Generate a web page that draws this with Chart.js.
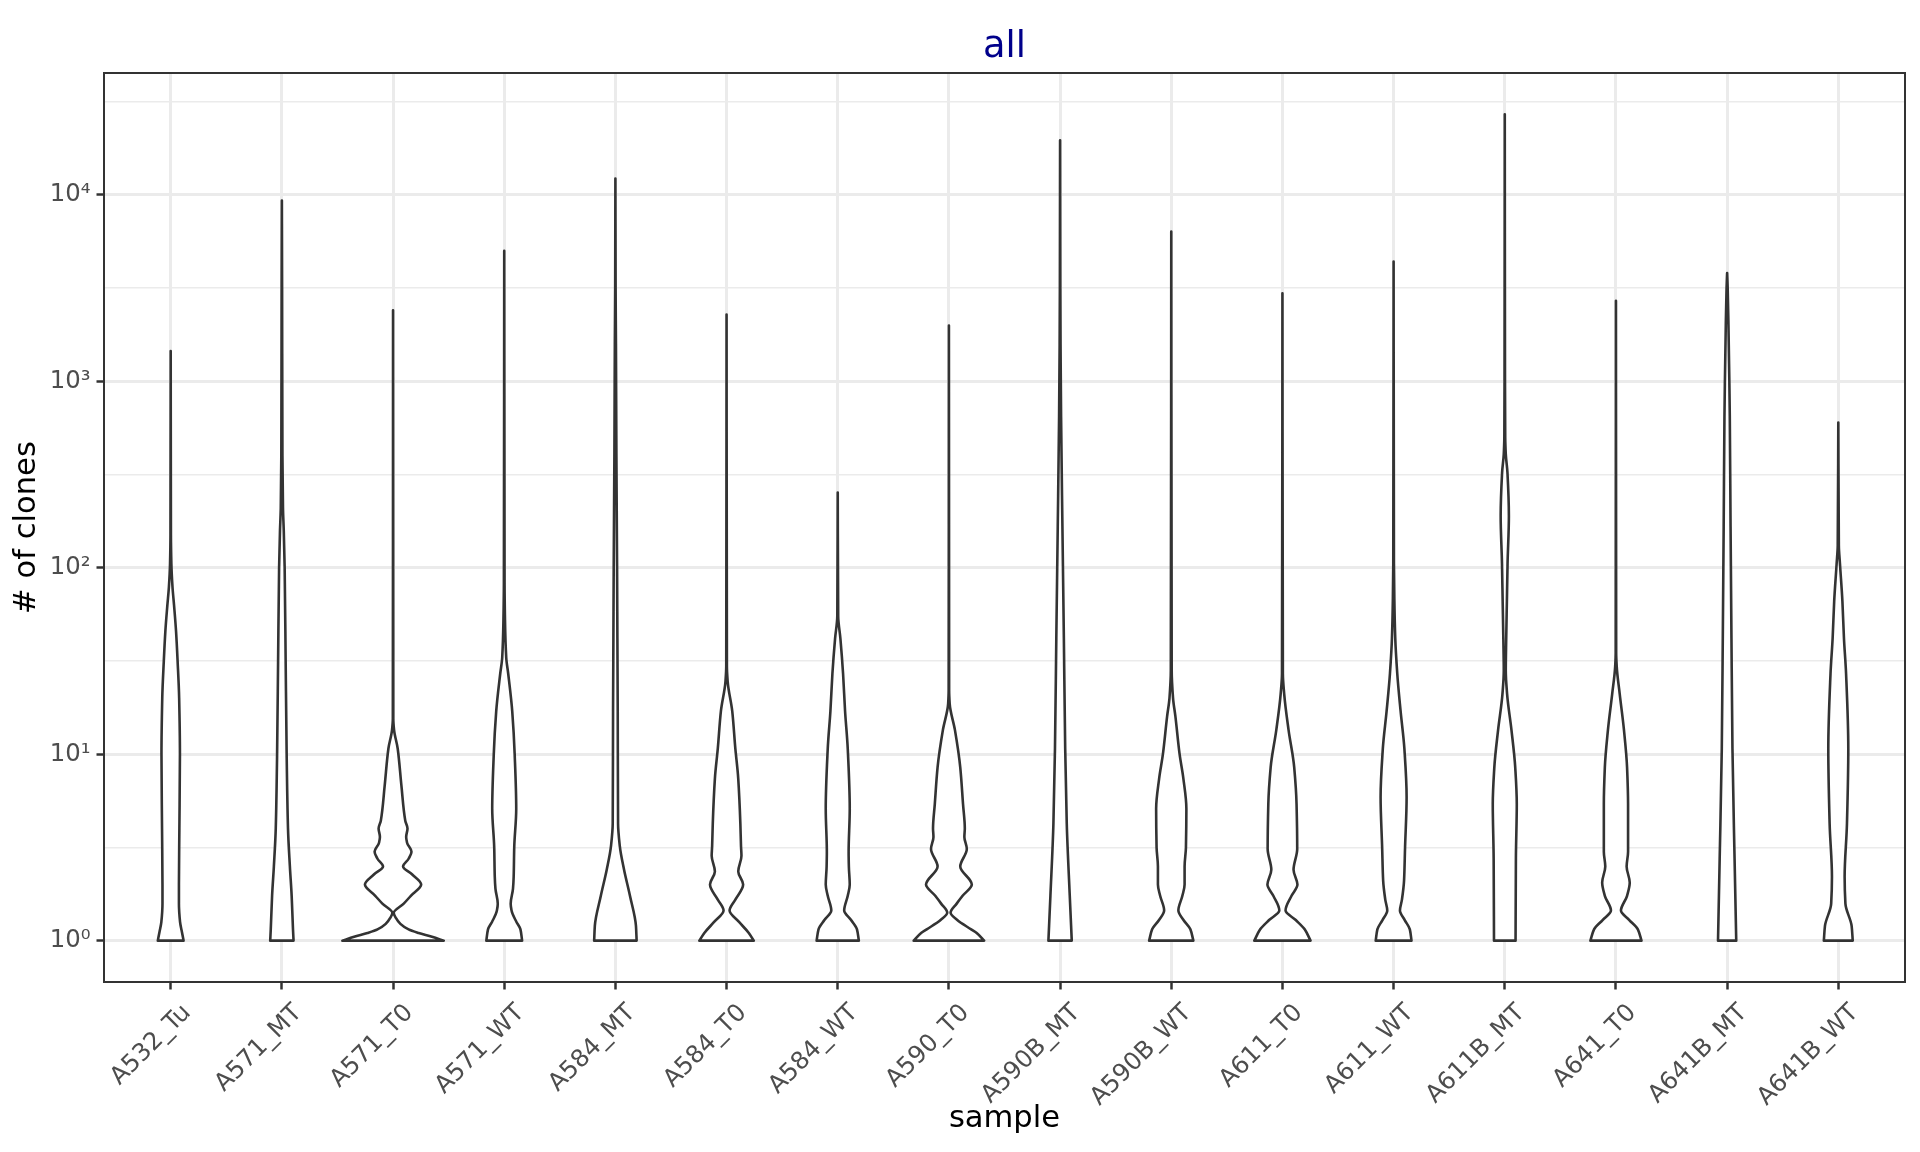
<!DOCTYPE html>
<html>
<head>
<meta charset="utf-8">
<title>all</title>
<script src="https://cdn.jsdelivr.net/npm/chart.js@4.4.0/dist/chart.umd.min.js"></script>
<style>
  html, body { margin: 0; padding: 0; background: #ffffff; }
  #wrap { width: 1920px; height: 1152px; }
</style>
</head>
<body>
<div id="wrap"><canvas id="chart" width="1920" height="1152"></canvas></div>
<script>
// Samples on the x axis
const samples = ["A532_Tu", "A571_MT", "A571_T0", "A571_WT", "A584_MT", "A584_T0", "A584_WT", "A590_T0",
  "A590B_MT", "A590B_WT", "A611_T0", "A611_WT", "A611B_MT", "A641_T0", "A641B_MT", "A641B_WT"];

// Largest clone count per sample (top of each violin)
const maxClones = [1450, 9300, 2400, 5000, 12200, 2280, 253, 1990, 19600, 6350, 2960, 4380, 27000, 2700, 3800, 600];

// Violin outlines: [clones, half width in category units], read from bottom to top
const densA532_Tu = [[1, 0.116], [1.12, 0.1], [1.26, 0.084], [1.58, 0.074], [2, 0.074], [4, 0.078], [10, 0.083], [20, 0.076], [31.6, 0.062], [45.7, 0.048], [63, 0.03], [79, 0.016], [105, 0.006], [150, 0.002]];
const densA571_MT = [[1, 0.105], [1.15, 0.1], [1.74, 0.088], [2.5, 0.072], [4, 0.055], [10, 0.043], [31.6, 0.034], [100, 0.025], [158, 0.017], [209, 0.01], [400, 0.005], [3162, 0.002]];
const densA571_T0 = [[1, 0.456], [1.05, 0.35], [1.1, 0.23], [1.15, 0.14], [1.23, 0.066], [1.32, 0.027], [1.41, 0.006], [1.58, 0.096], [1.74, 0.16], [2, 0.253], [2.27, 0.17], [2.5, 0.09], [2.75, 0.14], [3, 0.166], [3.35, 0.126], [3.6, 0.118], [4, 0.13], [4.4, 0.11], [6.8, 0.075], [10.7, 0.042], [13.5, 0.009], [15.5, 0.002]];
const densA571_WT = [[1, 0.161], [1.15, 0.146], [1.26, 0.11], [1.45, 0.066], [1.58, 0.058], [1.9, 0.079], [2.2, 0.085], [3.16, 0.09], [5.1, 0.108], [10, 0.094], [17, 0.072], [27, 0.036], [33, 0.018], [52.5, 0.007], [83, 0.003]];
const densA584_MT = [[1, 0.191], [1.2, 0.185], [1.74, 0.131], [2.4, 0.078], [3.2, 0.04], [4.25, 0.024], [17, 0.021], [41.7, 0.018], [105, 0.015], [407, 0.009], [1585, 0.005], [3162, 0.002]];
const densA584_T0 = [[1, 0.245], [1.1, 0.2], [1.26, 0.112], [1.45, 0.027], [1.66, 0.079], [2, 0.149], [2.35, 0.105], [2.85, 0.134], [3.2, 0.13], [4.25, 0.124], [7.4, 0.105], [10.7, 0.079], [17, 0.051], [24.5, 0.01], [29.5, 0.003]];
const densA584_WT = [[1, 0.19], [1.15, 0.173], [1.29, 0.12], [1.45, 0.058], [1.74, 0.09], [2, 0.108], [2.5, 0.1], [3, 0.098], [5.1, 0.108], [10.7, 0.09], [17, 0.066], [27, 0.048], [41.7, 0.024], [55, 0.004]];
const densA590_T0 = [[1, 0.317], [1.1, 0.25], [1.15, 0.2], [1.29, 0.075], [1.41, 0.015], [1.58, 0.07], [1.74, 0.123], [2, 0.206], [2.5, 0.102], [3.1, 0.161], [3.6, 0.139], [4, 0.143], [5.4, 0.127], [8.5, 0.102], [13.5, 0.054], [18.6, 0.007], [22, 0.002]];
const densA590B_MT = [[1, 0.105], [1.74, 0.087], [4.25, 0.06], [10.7, 0.046], [41.7, 0.034], [166, 0.021], [646, 0.009], [1585, 0.004], [3162, 0.002]];
const densA590B_WT = [[1, 0.199], [1.15, 0.172], [1.29, 0.11], [1.45, 0.064], [1.74, 0.1], [2, 0.12], [2.5, 0.12], [3.16, 0.132], [5.1, 0.136], [7.4, 0.109], [10, 0.075], [16, 0.037], [20, 0.016], [28, 0.004]];
const densA611_T0 = [[1, 0.253], [1.15, 0.2], [1.29, 0.12], [1.45, 0.028], [1.74, 0.082], [2, 0.135], [2.4, 0.1], [3.1, 0.133], [5.4, 0.127], [8.5, 0.106], [13.5, 0.055], [21, 0.016], [27, 0.004]];
const densA611_WT = [[1, 0.161], [1.15, 0.146], [1.29, 0.1], [1.45, 0.057], [1.66, 0.075], [2.1, 0.094], [3.16, 0.103], [5.9, 0.117], [10.7, 0.097], [17, 0.063], [27, 0.033], [41.7, 0.015], [66, 0.007], [105, 0.003]];
const densA611B_MT = [[1, 0.097], [2.75, 0.1], [5.4, 0.108], [8.5, 0.094], [13.5, 0.06], [21, 0.021], [28, 0.009], [41.7, 0.013], [66, 0.019], [105, 0.025], [190, 0.037], [324, 0.024], [407, 0.009], [500, 0.004], [1000, 0.002]];
const densA641_T0 = [[1, 0.23], [1.15, 0.197], [1.29, 0.12], [1.45, 0.045], [1.74, 0.1], [2.05, 0.124], [2.5, 0.096], [3, 0.109], [5.4, 0.109], [8.5, 0.1], [13.5, 0.072], [21, 0.034], [29.5, 0.007], [35, 0.002]];
const densA641B_MT = [[1, 0.082], [2.75, 0.067], [10.7, 0.048], [41.7, 0.039], [166, 0.031], [646, 0.024], [1000, 0.02], [2000, 0.012], [3162, 0.005]];
const densA641B_WT = [[1, 0.13], [1.2, 0.12], [1.58, 0.064], [2.2, 0.057], [4.25, 0.078], [10.7, 0.09], [27, 0.07], [41.7, 0.051], [66, 0.037], [105, 0.015], [132, 0.005]];

// Y axis: labelled powers of ten, grid lines every half decade
const yTickLabels = ["10⁰", "10¹", "10²", "10³", "10⁴"];
const yGridPowers = [0, 0.5, 1, 1.5, 2, 2.5, 3, 3.5, 4, 4.5];

const profiles = [densA532_Tu, densA571_MT, densA571_T0, densA571_WT, densA584_MT, densA584_T0, densA584_WT, densA590_T0,
  densA590B_MT, densA590B_WT, densA611_T0, densA611_WT, densA611B_MT, densA641_T0, densA641B_MT, densA641B_WT];

const FONT = '"DejaVu Sans", sans-serif';
const INK = "#333333";

function isMajorPower(v) {
  const p = Math.log10(v);
  return Math.abs(p - Math.round(p)) < 1e-6;
}

// Smooth half width as a function of height (monotone cubic tangents)
function tangents(t, w) {
  const n = t.length;
  const h = [], d = [], m = [];
  for (let k = 0; k < n - 1; k++) {
    h.push(t[k + 1] - t[k]);
    d.push((w[k + 1] - w[k]) / h[k]);
  }
  m[0] = d[0];
  m[n - 1] = d[n - 2];
  for (let k = 1; k < n - 1; k++) {
    if (d[k - 1] * d[k] <= 0) {
      m[k] = 0;
    } else {
      m[k] = 3 * (h[k - 1] + h[k]) / ((2 * h[k] + h[k - 1]) / d[k - 1] + (h[k] + 2 * h[k - 1]) / d[k]);
    }
  }
  return { h, m };
}

const violinPlugin = {
  id: "violins",
  afterDatasetsDraw(chart) {
    const ctx = chart.ctx;
    const xs = chart.scales.x;
    const ys = chart.scales.y;
    profiles.forEach(function (prof, i) {
      const cx = xs.getPixelForValue(i);
      const pts = prof.concat([[maxClones[i], 0]]);
      // t runs upwards in pixels, w is the half width in pixels
      const t = pts.map(p => -ys.getPixelForValue(p[0]));
      const w = pts.map(p => xs.getPixelForValue(i + p[1]) - cx);
      const { h, m } = tangents(t, w);
      const n = t.length;

      ctx.save();
      ctx.beginPath();
      ctx.moveTo(cx - w[0], -t[0]);
      // left side, bottom to top
      for (let k = 0; k < n - 1; k++) {
        ctx.bezierCurveTo(
          cx - (w[k] + m[k] * h[k] / 3), -(t[k] + h[k] / 3),
          cx - (w[k + 1] - m[k + 1] * h[k] / 3), -(t[k + 1] - h[k] / 3),
          cx - w[k + 1], -t[k + 1]);
      }
      // right side, top to bottom
      for (let k = n - 2; k >= 0; k--) {
        ctx.bezierCurveTo(
          cx + (w[k + 1] - m[k + 1] * h[k] / 3), -(t[k + 1] - h[k] / 3),
          cx + (w[k] + m[k] * h[k] / 3), -(t[k] + h[k] / 3),
          cx + w[k], -t[k]);
      }
      ctx.closePath();
      ctx.fillStyle = "#ffffff";
      ctx.fill();
      ctx.lineWidth = 2.6;
      ctx.lineJoin = "round";
      ctx.strokeStyle = INK;
      ctx.stroke();
      ctx.restore();
    });
  },
  afterDraw(chart) {
    const ctx = chart.ctx;
    const area = chart.chartArea;
    const xs = chart.scales.x;

    // panel border
    ctx.save();
    ctx.lineWidth = 2;
    ctx.strokeStyle = INK;
    ctx.strokeRect(area.left, area.top, area.right - area.left, area.bottom - area.top);

    // title centred over the panel
    ctx.fillStyle = "#00008B";
    ctx.font = "36.7px " + FONT;
    ctx.textAlign = "center";
    ctx.textBaseline = "alphabetic";
    ctx.fillText("all", (area.left + area.right) / 2, 57);

    // rotated sample labels, text ending just right of each tick
    ctx.fillStyle = "#4D4D4D";
    ctx.font = "24.4px " + FONT;
    ctx.textAlign = "right";
    samples.forEach(function (name, i) {
      const px = xs.getPixelForValue(i);
      ctx.save();
      ctx.translate(px + 21, area.bottom + 31.5);
      ctx.rotate(-Math.PI / 4);
      ctx.fillText(name, 0, 0);
      ctx.restore();
    });
    ctx.restore();
  }
};

const ctx = document.getElementById("chart").getContext("2d");
const chart = new Chart(ctx, {
  type: "scatter",
  data: { datasets: [] },
  plugins: [violinPlugin],
  options: {
    responsive: false,
    animation: false,
    devicePixelRatio: 1,
    layout: { padding: { top: 73, right: 15, left: 0, bottom: 0 } },
    plugins: {
      legend: { display: false },
      tooltip: { enabled: false },
      title: { display: false }
    },
    scales: {
      x: {
        type: "linear",
        min: -0.6,
        max: 15.6,
        bounds: "data",
        afterBuildTicks: function (scale) {
          scale.ticks = samples.map((_, i) => ({ value: i }));
        },
        afterFit: function (scale) {
          scale.height = 170;
        },
        ticks: { display: false },
        grid: {
          color: "#EBEBEB",
          lineWidth: 3,
          drawTicks: true,
          tickColor: INK,
          tickWidth: 2.5,
          tickLength: 7.5
        },
        border: { display: false },
        title: {
          display: true,
          text: "sample",
          color: "#000000",
          font: { family: FONT, size: 30.6 },
          padding: { top: 0, bottom: 14.2 }
        }
      },
      y: {
        type: "logarithmic",
        min: Math.pow(10, -0.2216),
        max: Math.pow(10, 4.6526),
        bounds: "data",
        afterBuildTicks: function (scale) {
          scale.ticks = yGridPowers.map(p => ({ value: Math.pow(10, p) }));
        },
        afterFit: function (scale) {
          scale.width = 104;
        },
        ticks: {
          autoSkip: false,
          padding: 6,
          color: "#4D4D4D",
          font: { family: FONT, size: 24.4 },
          callback: function (value) {
            if (!isMajorPower(value)) return "";
            return yTickLabels[Math.round(Math.log10(value))];
          }
        },
        grid: {
          color: "#EBEBEB",
          lineWidth: c => isMajorPower(c.tick.value) ? 3 : 1.5,
          drawTicks: true,
          tickColor: c => isMajorPower(c.tick.value) ? INK : "rgba(0,0,0,0)",
          tickWidth: 2.5,
          tickLength: 7.5
        },
        border: { display: false },
        title: {
          display: true,
          text: "# of clones",
          color: "#000000",
          font: { family: FONT, size: 30.6 },
          padding: { top: 8.3, bottom: 0 }
        }
      }
    }
  }
});
</script>
</body>
</html>
